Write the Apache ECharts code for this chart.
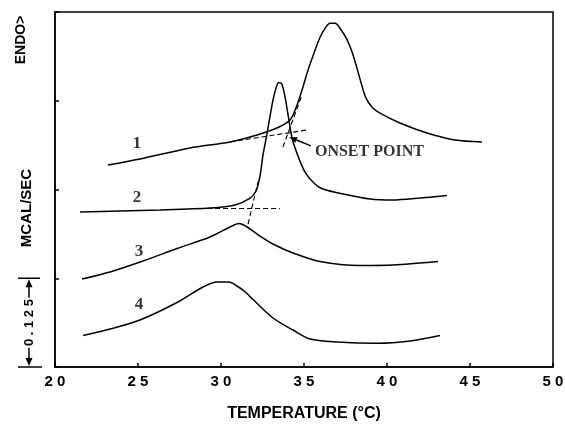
<!DOCTYPE html>
<html><head><meta charset="utf-8">
<script src="https://cdn.jsdelivr.net/npm/echarts@6/dist/echarts.min.js"></script>
<style>html,body{margin:0;padding:0;background:#fff}#c{width:565px;height:426px}</style>
</head><body><div id="c"></div>
<script>
// Tick labels (x axis) - digits spaced as in the original
const xTickLabels = ['2 0', '2 5', '3 0', '3 5', '4 0', '4 5', '5 0'];
// Curves: [temperature °C, heat flow mcal/s (offset, arbitrary zero)]
const curve1 = [[23.19,0.2845],[25.12,0.293],[28.13,0.3085],[30.54,0.317],[32.17,0.3268],[33.37,0.3366],[34.16,0.348],[34.52,0.365],[34.88,0.390],[35.24,0.418],[35.60,0.442],[35.96,0.464],[36.27,0.477],[36.57,0.484],[36.87,0.484],[37.23,0.475],[37.59,0.461],[37.89,0.444],[38.19,0.421],[38.49,0.396],[38.73,0.379],[39.10,0.366],[39.58,0.3577],[40.78,0.3437],[42.41,0.3296],[44.10,0.3197],[45.72,0.317]];
const curve2 = [[21.51,0.2183],[23.92,0.2197],[26.33,0.2211],[29.34,0.2239],[30.84,0.2282],[31.75,0.238],[32.11,0.2479],[32.35,0.269],[32.53,0.2986],[32.77,0.3282],[33.13,0.376],[33.37,0.397],[33.49,0.4007],[33.67,0.3986],[33.86,0.380],[34.04,0.355],[34.28,0.3225],[34.64,0.297],[35.06,0.2746],[35.66,0.2577],[36.14,0.2507],[37.35,0.2437],[38.98,0.2366],[40.36,0.2352],[41.99,0.238],[43.61,0.2415]];
const curve3 = [[21.63,0.1239],[23.31,0.1338],[25.30,0.1493],[27.35,0.1669],[29.34,0.1831],[30.54,0.1972],[31.08,0.2021],[31.57,0.1972],[32.35,0.1845],[33.25,0.1718],[34.34,0.1606],[35.96,0.1486],[38.37,0.1430],[40.36,0.1437],[43.07,0.1486]];
const curve4 = [[21.69,0.0444],[23.31,0.0535],[25.12,0.0662],[27.35,0.0908],[28.92,0.1127],[29.76,0.1197],[30.48,0.1197],[30.96,0.1141],[31.45,0.1060],[31.93,0.0950],[33.13,0.0690],[34.34,0.0521],[35.36,0.0394],[36.99,0.0352],[39.40,0.0334],[41.39,0.0366],[43.19,0.0444]];
// Dashed construction lines (onset determination)
const base2 = [[29.16,0.2232],[33.55,0.2232]];
const edge2 = [[31.63,0.2014],[32.23,0.2606]];
const base1 = [[30.54,0.317],[35.18,0.3338]];
const edge1 = [[33.73,0.3099],[34.88,0.383]];
const onsetArrow = [[35.42,0.3113],[34.10,0.324]];
// Text labels
const curveLabels = [[24.94,0.314,'1'],[24.94,0.238,'2'],[25.06,0.162,'3'],[25.06,0.0873,'4']];
const onsetLabel = [[35.66,0.3028,'ONSET POINT']];
const scaleStep = 0.125;

const SANS = '"Liberation Sans", Arial, sans-serif';
const SERIF = '"Liberation Serif", "Times New Roman", serif';
const chart = echarts.init(document.getElementById('c'));
const solid = {color:'#000', width:1.5};
const dashed = {color:'#000', width:1.1, type:[5,3]};
function lineSeries(data, style, smooth){
  return {type:'line', data:data, showSymbol:false, symbol:'none', smooth:smooth, lineStyle:style, silent:true};
}
const invisible = {color:'rgba(0,0,0,0)'};
chart.setOption({
  animation:false,
  grid:{left:55, right:12, top:12, bottom:59, show:true, borderColor:'#000', borderWidth:1.5, containLabel:false, outerBoundsMode:'none'},
  xAxis:{type:'value', min:20, max:50, interval:5,
    axisLine:{lineStyle:{color:'#000', width:1.5}},
    axisTick:{inside:true, length:4, lineStyle:{color:'#000', width:1.5}},
    splitLine:{show:false},
    axisLabel:{formatter:v=>xTickLabels[Math.round((v-20)/5)], color:'#000', fontFamily:SANS, fontWeight:'bold', fontSize:15, margin:7},
    name:'TEMPERATURE (°C)', nameLocation:'middle', nameGap:39,
    nameTextStyle:{color:'#000', fontFamily:SANS, fontWeight:'bold', fontSize:16}
  },
  yAxis:{type:'value', min:0, max:0.5, interval:scaleStep,
    axisLine:{show:true, lineStyle:{color:'#000', width:1.5}},
    axisTick:{show:true, inside:true, length:4, lineStyle:{color:'#000', width:1.5}},
    axisLabel:{show:false}, splitLine:{show:false}
  },
  series:[
    lineSeries(curve1, solid, 0.3), lineSeries(curve2, solid, 0.25), lineSeries(curve3, solid, 0.3), lineSeries(curve4, solid, 0.3),
    lineSeries(base2, dashed, false),
    lineSeries(edge2, dashed, false),
    lineSeries(base1, dashed, false),
    lineSeries(edge1, dashed, false),
    {type:'scatter', data:curveLabels, symbolSize:1, itemStyle:invisible, silent:true,
      label:{show:true, position:'inside', formatter:p=>p.data[2], color:'#000', fontFamily:SERIF, fontWeight:'bold', fontSize:17}},
    {type:'scatter', data:onsetLabel, symbolSize:1, itemStyle:invisible, silent:true,
      label:{show:true, position:'inside', align:'left', formatter:p=>p.data[2], color:'#000', fontFamily:SERIF, fontWeight:'bold', fontSize:16}}
  ]
});
// Y-side annotations and onset arrow
const y0 = chart.convertToPixel({gridIndex:0}, [20, 0])[1];
const y1 = chart.convertToPixel({gridIndex:0}, [20, scaleStep])[1];
const ym = (y0 + y1) / 2;
const ax = 29;
const txt = (x, y, s, size) => ({type:'text', x:x, y:y, rotation:Math.PI/2,
  style:{text:s, fill:'#000', font:'bold ' + size + 'px ' + SANS, textAlign:'center', textVerticalAlign:'middle'}});
const ln = (x1, yA, x2, yB, w) => ({type:'line', shape:{x1:x1, y1:yA, x2:x2, y2:yB}, style:{stroke:'#000', lineWidth:w || 1.5}});
const pA = chart.convertToPixel({gridIndex:0}, onsetArrow[0]);
const pB = chart.convertToPixel({gridIndex:0}, onsetArrow[1]);
const dx = pB[0] - pA[0], dy = pB[1] - pA[1], L = Math.hypot(dx, dy);
const ux = dx / L, uy = dy / L, hl = 8, hw = 3;
const hb = [pB[0] - ux * hl, pB[1] - uy * hl];
chart.setOption({graphic:[
  txt(21, 40, 'ENDO>', 14),
  txt(27, 208, 'MCAL/SEC', 15),
  txt(ax, ym, '0 . 1 2 5', 13),
  ln(18, y1, 40, y1), ln(18, y0, 42, y0),
  ln(ax, ym - 25, ax, y1 + 6), ln(ax, ym + 25, ax, y0 - 6),
  {type:'polygon', shape:{points:[[ax, y1 + 1],[ax - 3.5, y1 + 9],[ax + 3.5, y1 + 9]]}, style:{fill:'#000'}},
  {type:'polygon', shape:{points:[[ax, y0 - 1],[ax - 3.5, y0 - 9],[ax + 3.5, y0 - 9]]}, style:{fill:'#000'}},
  ln(pA[0], pA[1], hb[0], hb[1], 1.4),
  {type:'polygon', shape:{points:[[pB[0], pB[1]],[hb[0] - uy * hw, hb[1] + ux * hw],[hb[0] + uy * hw, hb[1] - ux * hw]]}, style:{fill:'#000'}}
]});
</script>
</body></html>
